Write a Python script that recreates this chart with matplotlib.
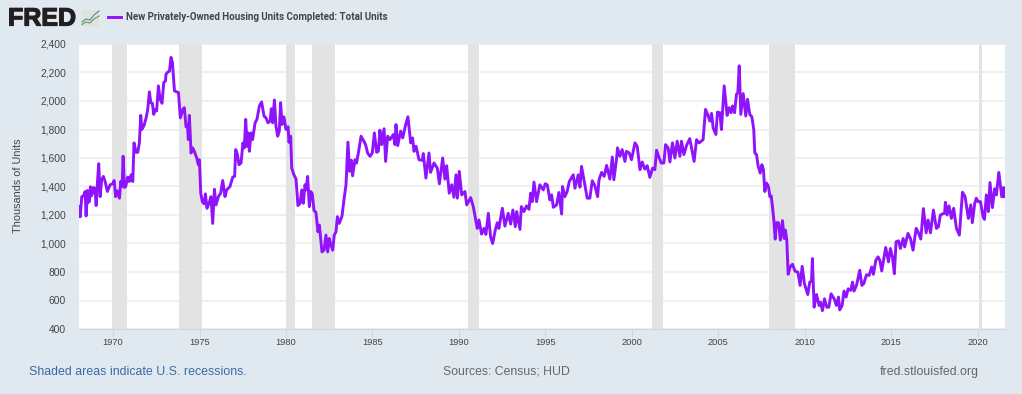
import matplotlib
matplotlib.use('Agg')
import matplotlib.pyplot as plt
import matplotlib.patheffects as pe
from matplotlib.lines import Line2D
from matplotlib.patches import FancyBboxPatch

# (decimal year, thousands of units)
years = [1968.00, 1968.04, 1968.10, 1968.19, 1968.29, 1968.38, 1968.44, 1968.52, 1968.57, 1968.63, 1968.69, 1968.75, 1968.81, 1968.86, 1968.96,
         1969.02, 1969.08, 1969.17, 1969.25, 1969.34, 1969.44, 1969.54, 1969.67, 1969.83, 1969.98,
         1970.06, 1970.15, 1970.25, 1970.37, 1970.44, 1970.52, 1970.58, 1970.66, 1970.73, 1970.85, 1970.94,
         1971.04, 1971.14, 1971.21, 1971.33, 1971.43, 1971.52, 1971.60, 1971.66, 1971.79, 1971.91,
         1972.00, 1972.10, 1972.18, 1972.27, 1972.35, 1972.43, 1972.52, 1972.62, 1972.72, 1972.83, 1972.93,
         1973.03, 1973.06, 1973.18, 1973.26, 1973.35, 1973.43, 1973.55, 1973.68, 1973.78, 1973.89,
         1974.03, 1974.12, 1974.22, 1974.30, 1974.35, 1974.41, 1974.51, 1974.60, 1974.70, 1974.84, 1974.93, 1974.99,
         1975.07, 1975.16, 1975.26, 1975.34, 1975.43, 1975.55, 1975.66, 1975.76, 1975.86, 1975.95,
         1976.09, 1976.22, 1976.34, 1976.47, 1976.57, 1976.76, 1976.92,
         1977.03, 1977.09, 1977.19, 1977.28, 1977.40, 1977.51, 1977.59, 1977.67, 1977.75, 1977.82, 1977.88, 1977.98,
         1978.07, 1978.21, 1978.32, 1978.46, 1978.59, 1978.73, 1978.84, 1978.96,
         1979.08, 1979.15, 1979.23, 1979.33, 1979.42, 1979.52, 1979.61, 1979.69, 1979.77, 1979.88,
         1980.00, 1980.12, 1980.17, 1980.27, 1980.33, 1980.46, 1980.58, 1980.69, 1980.81, 1980.91,
         1981.00, 1981.10, 1981.16, 1981.25, 1981.35, 1981.43, 1981.52, 1981.62, 1981.73, 1981.85, 1981.93,
         1982.08, 1982.20, 1982.31, 1982.41, 1982.50, 1982.60, 1982.70, 1982.79, 1982.89, 1982.97,
         1983.08, 1983.24, 1983.35, 1983.47, 1983.58, 1983.68, 1983.78, 1983.85, 1983.99,
         1984.08, 1984.20, 1984.34, 1984.47, 1984.60, 1984.72, 1984.86, 1984.99,
         1985.11, 1985.24, 1985.34, 1985.43, 1985.53, 1985.67, 1985.76, 1985.88,
         1986.01, 1986.21, 1986.30, 1986.36, 1986.46, 1986.63, 1986.75, 1986.92,
         1987.05, 1987.21, 1987.32, 1987.40, 1987.52, 1987.69, 1987.88, 1987.94,
         1988.09, 1988.27, 1988.36, 1988.56, 1988.75, 1988.87,
         1989.06, 1989.19, 1989.29, 1989.44, 1989.58, 1989.71, 1989.83, 1989.91,
         1990.02, 1990.16, 1990.35, 1990.45, 1990.68, 1990.83, 1990.97,
         1991.06, 1991.16, 1991.31, 1991.45, 1991.56, 1991.70, 1991.83, 1991.95,
         1992.10, 1992.22, 1992.31, 1992.51, 1992.66, 1992.85, 1992.99,
         1993.12, 1993.26, 1993.34, 1993.53, 1993.61, 1993.76, 1993.91,
         1994.05, 1994.15, 1994.24, 1994.34, 1994.49, 1994.68, 1994.88, 1994.99,
         1995.11, 1995.26, 1995.36, 1995.46, 1995.65, 1995.78, 1995.94, 1995.99,
         1996.13, 1996.26, 1996.38, 1996.61, 1996.71, 1996.90,
         1997.00, 1997.09, 1997.23, 1997.42, 1997.57, 1997.71, 1997.86,
         1998.02, 1998.10, 1998.25, 1998.40, 1998.54, 1998.73, 1998.87, 1998.96,
         1999.12, 1999.17, 1999.31, 1999.44, 1999.60, 1999.69, 1999.85, 1999.98,
         2000.18, 2000.31, 2000.47, 2000.60, 2000.75, 2000.89,
         2001.04, 2001.20, 2001.33, 2001.43, 2001.56, 2001.70, 2001.85, 2001.95,
         2002.10, 2002.20, 2002.35, 2002.49, 2002.62, 2002.78, 2002.87,
         2003.01, 2003.16, 2003.35, 2003.49, 2003.60, 2003.74, 2003.89,
         2004.12, 2004.26, 2004.38, 2004.51, 2004.61, 2004.70, 2004.86, 2004.95,
         2005.09, 2005.18, 2005.34, 2005.51, 2005.63, 2005.74, 2005.82, 2005.94,
         2006.05, 2006.13, 2006.21, 2006.30, 2006.44, 2006.59, 2006.69, 2006.82, 2006.94,
         2007.05, 2007.11, 2007.21, 2007.30, 2007.42, 2007.52, 2007.61, 2007.69, 2007.79, 2007.90, 2007.98,
         2008.06, 2008.13, 2008.21, 2008.29, 2008.36, 2008.48, 2008.59, 2008.71, 2008.81, 2008.88, 2008.96,
         2009.04, 2009.15, 2009.29, 2009.44, 2009.60, 2009.73, 2009.85, 2009.98,
         2010.17, 2010.29, 2010.39, 2010.44, 2010.54, 2010.68, 2010.83, 2010.91,
         2011.02, 2011.14, 2011.27, 2011.39, 2011.52, 2011.70, 2011.83, 2011.95,
         2012.02, 2012.16, 2012.27, 2012.39, 2012.51, 2012.66, 2012.76, 2012.85, 2012.99,
         2013.18, 2013.30, 2013.41, 2013.57, 2013.72, 2013.87, 2013.97,
         2014.11, 2014.24, 2014.34, 2014.45, 2014.68, 2014.84, 2014.95,
         2015.07, 2015.18, 2015.28, 2015.42, 2015.53, 2015.69, 2015.78, 2015.97,
         2016.11, 2016.26, 2016.44, 2016.55, 2016.71, 2016.86,
         2017.02, 2017.13, 2017.27, 2017.44, 2017.61, 2017.73, 2017.84, 2017.96,
         2018.09, 2018.13, 2018.23, 2018.34, 2018.48, 2018.61, 2018.77, 2018.94,
         2019.12, 2019.27, 2019.46, 2019.60, 2019.69, 2019.83, 2019.92,
         2020.02, 2020.16, 2020.31, 2020.39, 2020.50, 2020.62, 2020.71, 2020.85, 2020.98,
         2021.08, 2021.22, 2021.39, 2021.50, 2021.50]
units = [1190, 1259, 1188, 1329, 1334, 1365, 1193, 1372, 1289, 1294, 1398, 1334, 1353, 1393, 1384,
         1266, 1400, 1560, 1329, 1447, 1471, 1435, 1365, 1412, 1419,
         1442, 1329, 1369, 1318, 1435, 1400, 1612, 1393, 1400, 1466, 1435,
         1482, 1435, 1706, 1640, 1640, 1706, 1899, 1800, 1828, 1882,
         1937, 2064, 1988, 1984, 1906, 1941, 1930, 2106, 2012, 1984, 2129,
         2141, 2188, 2205, 2209, 2306, 2271, 2071, 2064, 2059, 1882,
         1941, 1953, 1819, 1835, 1729, 1899, 1635, 1671, 1647, 1600, 1553, 1588,
         1353, 1294, 1278, 1348, 1247, 1282, 1329, 1141, 1381, 1271,
         1329, 1353, 1442, 1329, 1376, 1400, 1466,
         1471, 1659, 1624, 1553, 1565, 1706, 1671, 1871, 1682, 1776, 1647, 1776,
         1729, 1847, 1871, 1965, 1993, 1894, 1882, 1847,
         1859, 1946, 1847, 2007, 1824, 1753, 1788, 1988, 1835, 1889,
         1800, 1819, 1711, 1753, 1529, 1482, 1452, 1266, 1282, 1376,
         1282, 1412, 1376, 1471, 1259, 1365, 1348, 1231, 1219, 1082, 1129,
         941, 953, 1059, 941, 1035, 988, 953, 1059, 1082, 1188,
         1141, 1193, 1306, 1412, 1711, 1506, 1584, 1475, 1588,
         1565, 1647, 1753, 1725, 1694, 1635, 1612, 1635,
         1776, 1640, 1647, 1795, 1694, 1805, 1576, 1753,
         1729, 1765, 1694, 1835, 1687, 1788, 1741, 1835,
         1889, 1706, 1741, 1647, 1682, 1588, 1584, 1631,
         1459, 1635, 1499, 1565, 1529, 1419,
         1600, 1452, 1546, 1353, 1412, 1325, 1482, 1318,
         1506, 1341, 1365, 1271, 1322, 1259, 1165,
         1106, 1165, 1066, 1106, 1064, 1212, 1047, 1000,
         1094, 1146, 1106, 1247, 1122, 1212, 1136,
         1235, 1118, 1224, 1099, 1259, 1224, 1264,
         1240, 1353, 1294, 1431, 1294, 1412, 1376, 1419,
         1412, 1306, 1341, 1254, 1271, 1358, 1207, 1400,
         1329, 1365, 1435, 1482, 1388, 1482,
         1395, 1541, 1447, 1318, 1318, 1440, 1405,
         1329, 1447, 1499, 1471, 1548, 1452, 1607, 1447,
         1600, 1671, 1612, 1659, 1576, 1647, 1635, 1588,
         1706, 1682, 1518, 1572, 1522, 1546,
         1464, 1529, 1518, 1654, 1607, 1565, 1565, 1694,
         1671, 1572, 1706, 1600, 1718, 1612, 1718,
         1624, 1687, 1736, 1647, 1576, 1729, 1706,
         1729, 1941, 1906, 1859, 1913, 1812, 1765, 1922,
         1918, 1800, 2106, 1899, 1953, 1918, 1965, 1918,
         2047, 2059, 2247, 1906, 2052, 1894, 2012, 1906, 1889,
         1800, 1635, 1624, 1546, 1494, 1553, 1518, 1365, 1424, 1400, 1329,
         1334, 1259, 1165, 1031, 1146, 1146, 1024, 1160, 1035, 1094, 1024,
         784, 835, 854, 805, 800, 706, 840, 718,
         642, 729, 736, 894, 553, 642, 565, 588,
         529, 612, 553, 553, 647, 612, 565, 624,
         534, 565, 666, 624, 682, 671, 729, 666, 706,
         812, 706, 718, 781, 776, 835, 784,
         882, 906, 882, 807, 972, 871, 965,
         906, 788, 1012, 1019, 965, 1035, 976, 1071,
         1035, 953, 1106, 1082, 1031, 1245,
         1075, 1165, 1075, 1235, 1106, 1118, 1200, 1207,
         1212, 1289, 1200, 1264, 1176, 1247, 1106, 1059,
         1360, 1329, 1176, 1271, 1146, 1282, 1318,
         1294, 1294, 1188, 1169, 1341, 1224, 1428, 1252, 1384,
         1341, 1499, 1329, 1393, 1329]

rec_start = [1969.92, 1973.83, 1980.00, 1981.50, 1990.50, 2001.17, 2007.92, 2020.08]
rec_end = [1970.83, 1975.17, 1980.50, 1982.83, 1991.17, 2001.83, 2009.42, 2020.25]

y_ticks = [400, 600, 800, 1000, 1200, 1400, 1600, 1800, 2000, 2200, 2400]
x_ticks = [1970, 1975, 1980, 1985, 1990, 1995, 2000, 2005, 2010, 2015, 2020]

title = 'New Privately-Owned Housing Units Completed: Total Units'
W, H = 1022, 394
BG = '#e1e9f0'
PURPLE = '#8f14fb'

plt.rcParams['font.family'] = ['Liberation Sans', 'DejaVu Sans']

fig = plt.figure(figsize=(W / 100, H / 100), dpi=100, facecolor=BG)
ax = fig.add_axes([78.5 / W, 1 - 329 / H, 926 / W, 285 / H])
ax.set_facecolor('white')

ax.grid(axis='y', color='#f0f0f0', lw=1.5, zorder=1)
for s, e in zip(rec_start, rec_end):
    ax.axvspan(s, e, color='#e3e3e3', lw=0, zorder=2)
ax.plot(years, units, color=PURPLE, lw=2.1, solid_joinstyle='round', zorder=3)

ax.set_xlim(1968.0, 2021.55)
ax.set_ylim(400, 2400)
ax.set_yticks(y_ticks)
ax.set_yticklabels([f'{v:,}' for v in y_ticks])
ax.set_xticks(x_ticks)
ax.tick_params(axis='y', length=0, pad=9, labelsize=7.4, labelcolor='#444444')
ax.tick_params(axis='x', length=6, width=0.8, color='#ccd6eb', pad=0.5, labelsize=6.7, labelcolor='#444444')
for side in ['top', 'left', 'right']:
    ax.spines[side].set_visible(False)
ax.spines['bottom'].set_color('#ccd6eb')
ax.spines['bottom'].set_linewidth(0.8)


def px_text(x, y, s, **kw):
    return fig.text(x / W, 1 - y / H, s, va='center', **kw)


px_text(18, 186, 'Thousands of Units', rotation=90, ha='center', fontsize=7.8, color='#444444')

# logo and legend row
logo = px_text(8, 18.5, 'FRED', ha='left', fontsize=18, fontweight='bold', color='#231f20')
logo.set_path_effects([pe.withStroke(linewidth=0.9, foreground='#231f20')])
fig.add_artist(FancyBboxPatch((81 / W, 1 - 26.5 / H), 18 / W, 16.5 / H,
                              boxstyle='round,pad=0,rounding_size=0.003', fc='#dfe3da', ec='none',
                              transform=fig.transFigure))
fig.add_artist(Line2D([82 / W, 86 / W, 90 / W, 94 / W, 99 / W],
                      [1 - 22 / H, 1 - 19 / H, 1 - 20 / H, 1 - 15 / H, 1 - 11 / H], color='#4d8aa8', lw=0.8))
fig.add_artist(Line2D([82 / W, 86 / W, 90 / W, 94 / W, 99 / W],
                      [1 - 24.5 / H, 1 - 22 / H, 1 - 23 / H, 1 - 19 / H, 1 - 16 / H], color='#5f9e4b', lw=0.8))
fig.add_artist(Line2D([107.5 / W, 121 / W], [1 - 17 / H, 1 - 17 / H], color=PURPLE, lw=2.1))
px_text(126, 17, title, ha='left', fontsize=7.0, fontweight='bold', family=['Roboto', 'Liberation Sans'],
        color='#444444')

# footer
px_text(29, 372, 'Shaded areas indicate U.S. recessions.', ha='left', fontsize=8.9, color='#3a6aa5')
px_text(506.5, 372, 'Sources: Census; HUD', ha='center', fontsize=8.85, color='#666666')
px_text(979, 372, 'fred.stlouisfed.org', ha='right', fontsize=8.9, color='#666666')

fig.savefig('out.png', dpi=100, facecolor=BG)
